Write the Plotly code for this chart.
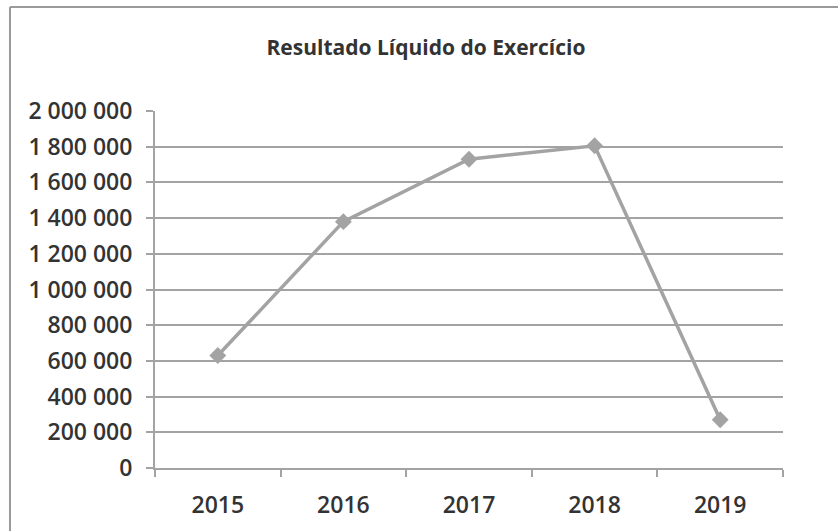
import plotly.graph_objects as go

# Net income per fiscal year
years = ["2015", "2016", "2017", "2018", "2019"]
resultado = [630000, 1380000, 1730000, 1805000, 270000]

y_ticks = list(range(0, 2000001, 200000))

W, H = 838, 531
ML, MR, MT, MB = 155, 55, 111, 63

GRAY = "#a3a3a3"
TEXT = "#333333"
FONT = "Open Sans"

fig = go.Figure()
fig.add_trace(go.Scatter(
    x=years,
    y=resultado,
    mode="lines+markers",
    line=dict(color=GRAY, width=3.5),
    marker=dict(symbol="diamond", size=13, color=GRAY),
    showlegend=False,
    hoverinfo="x+y",
))

# Frame lines (left and top edges of the chart area)
pw = W - ML - MR
ph = H - MT - MB
def px_x(p):
    return (p - ML) / pw
def px_y(p):
    return (H - MB - p) / ph

frame = dict(type="line", xref="paper", yref="paper",
             line=dict(color="#9a9a9a", width=2))
fig.add_shape(**frame, x0=px_x(10), x1=px_x(10), y0=px_y(7), y1=px_y(H + 5))
fig.add_shape(**frame, x0=px_x(10), x1=px_x(W + 5), y0=px_y(7), y1=px_y(7))

tick_font = dict(family=FONT, size=23, color=TEXT, weight=600)

fig.update_layout(
    width=W, height=H,
    margin=dict(l=ML, r=MR, t=MT, b=MB, pad=0),
    paper_bgcolor="white",
    plot_bgcolor="white",
    separators=", ",
    font=dict(family=FONT, color=TEXT, size=23),
    title=dict(
        text="<b>Resultado Líquido do Exercício</b>",
        x=426 / W, xanchor="center",
        y=1 - 48 / H, yanchor="middle",
        font=dict(family=FONT, size=21, color=TEXT),
    ),
    xaxis=dict(
        type="category",
        range=[-0.5, len(years) - 0.5],
        showgrid=False,
        showline=True, linecolor=GRAY, linewidth=2,
        ticks="outside", tickson="boundaries", ticklen=7,
        tickcolor=GRAY, tickwidth=2,
        tickfont=tick_font,
        ticklabelstandoff=15,
        zeroline=False,
    ),
    yaxis=dict(
        range=[0, 2000000],
        tickvals=y_ticks,
        tickformat=",d",
        showgrid=True, gridcolor=GRAY, gridwidth=2,
        showline=True, linecolor=GRAY, linewidth=2,
        ticks="outside", ticklen=7, tickcolor=GRAY, tickwidth=2,
        tickfont=tick_font,
        ticklabelstandoff=9,
        zeroline=False,
    ),
)

fig.write_html("out.html")
